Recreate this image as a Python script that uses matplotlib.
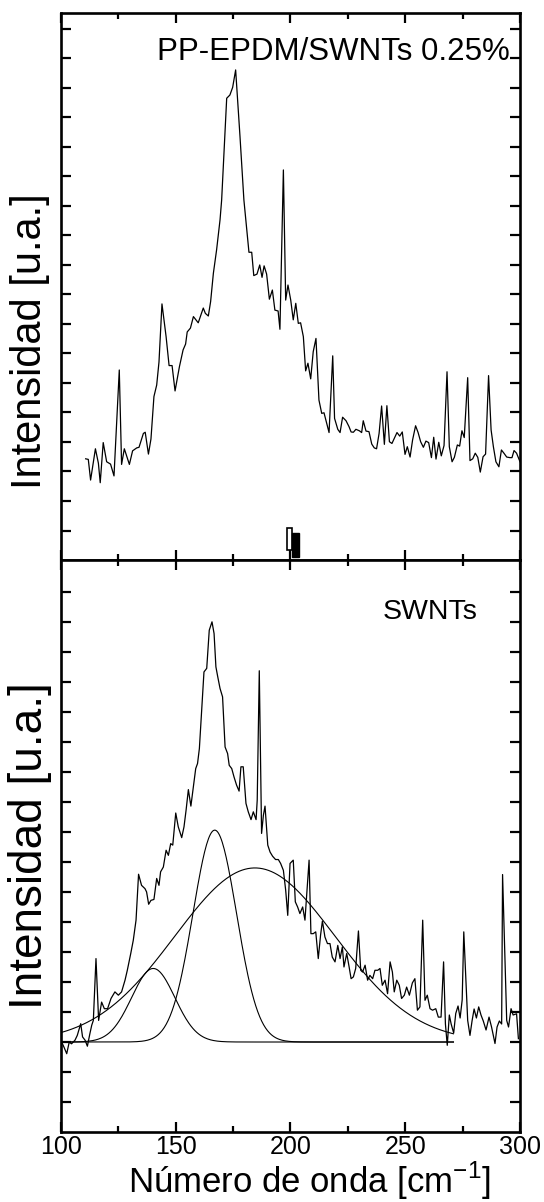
import matplotlib
matplotlib.use("Agg")
import matplotlib.pyplot as plt
from matplotlib.patches import Rectangle
import numpy as np

plt.rcParams['font.family'] = ['Liberation Sans', 'DejaVu Sans']
plt.rcParams['mathtext.fontset'] = 'custom'
plt.rcParams['mathtext.rm'] = 'Liberation Sans'

# PP-EPDM/SWNTs 0.25% spectrum
top_x = [110.75, 111.9, 112.9, 115.0, 116.3, 117.1, 118.4, 119.9, 121.6, 123.1,
         125.4, 126.4, 127.6, 129.8, 131.2, 133.0, 134.0, 135.9, 136.7, 138.1,
         139.2, 140.5, 141.7, 142.7, 144.0, 145.8, 147.1, 148.4, 149.7, 151.6,
         153.2, 154.3, 155.0, 156.4, 157.7, 159.8, 162.0, 162.9, 164.2, 165.2,
         166.4, 167.8, 169.3, 170.0, 172.2, 173.6, 174.8, 176.1, 178.0, 179.7,
         181.9, 183.1, 184.0, 185.4, 186.6, 187.6, 188.5, 189.6, 190.8, 192.1,
         193.2, 194.6, 195.4, 196.9, 197.9, 198.9, 200.1, 201.2, 202.3, 203.4,
         204.4, 205.6, 206.6, 207.6, 208.8, 209.9, 211.1, 212.4, 213.6, 214.6,
         215.8, 216.8, 218.4, 219.2, 220.6, 221.6, 222.7, 224.2, 225.5, 226.4,
         227.4, 228.5, 230.0, 231.0, 231.7, 232.9, 234.2, 235.4, 236.5, 237.5,
         238.6, 239.7, 240.9, 242.0, 243.1, 244.2, 245.2, 246.4, 247.6, 248.7,
         249.9, 250.9, 252.1, 253.2, 254.5, 255.6, 256.7, 257.9, 259.0, 260.2,
         261.4, 262.4, 263.4, 264.6, 265.7, 266.9, 268.2, 269.2, 270.4, 271.4,
         272.7, 273.7, 274.7, 275.7, 277.2, 278.2, 279.4, 280.5, 281.6, 282.7,
         283.9, 285.0, 286.3, 287.4, 288.4, 289.5, 290.8, 291.9, 293.0, 294.2,
         295.6, 296.5, 297.4, 298.5, 300.0]
top_y = [3.43, 3.41, 2.71, 3.77, 3.28, 2.62, 3.98, 3.33, 3.25, 2.85,
         6.44, 3.24, 3.77, 3.24, 3.70, 3.80, 3.82, 4.29, 4.33, 3.59,
         4.10, 5.54, 5.93, 6.71, 8.68, 7.57, 6.59, 6.59, 5.73, 6.55,
         7.12, 7.32, 7.73, 7.86, 8.25, 8.04, 8.54, 8.36, 8.27, 8.76,
         9.72, 10.51, 11.53, 12.20, 15.65, 15.76, 16.02, 16.61, 14.35, 12.20,
         10.43, 10.43, 9.64, 9.69, 10.00, 9.58, 9.97, 9.69, 8.84, 9.15,
         8.47, 8.44, 7.82, 13.22, 8.81, 9.32, 8.81, 8.14, 8.70, 8.02,
         8.04, 7.57, 6.41, 6.67, 6.14, 7.06, 7.51, 5.42, 4.97, 4.99,
         4.63, 4.32, 6.92, 4.80, 4.43, 4.32, 4.84, 4.72, 4.52, 4.34,
         4.33, 4.43, 4.38, 4.32, 4.72, 4.37, 4.35, 3.93, 3.80, 3.77,
         4.29, 5.22, 3.92, 5.23, 4.01, 3.95, 4.12, 4.32, 4.20, 4.34,
         3.58, 3.84, 3.49, 4.07, 4.55, 4.32, 4.01, 3.82, 4.03, 3.98,
         3.47, 4.16, 3.42, 3.99, 3.53, 3.88, 6.38, 3.84, 3.33, 3.48,
         3.90, 3.86, 4.38, 4.15, 6.18, 3.37, 3.43, 3.62, 3.48, 2.98,
         3.50, 3.59, 6.25, 4.41, 3.84, 3.33, 3.16, 3.73, 3.62, 3.49,
         3.47, 3.47, 3.71, 3.62, 3.33]

# SWNTs spectrum
bot_x = [100.3, 101.3, 102.5, 103.6, 104.6, 106.1, 107.1, 108.6, 109.4, 110.5,
         111.5, 112.6, 113.4, 114.1, 115.25, 116.4, 117.7, 118.9, 120.3, 121.8,
         123.5, 125.0, 126.4, 127.9, 128.9, 130.4, 131.5, 132.7, 133.8, 135.1,
         136.6, 137.3, 138.2, 139.2, 140.5, 141.7, 142.7, 143.4, 144.6, 145.8,
         146.8, 147.8, 148.7, 150.0, 151.1, 152.6, 153.6, 154.5, 155.5, 156.6,
         157.7, 158.7, 159.5, 160.3, 161.3, 162.3, 163.5, 164.6, 165.8, 166.7,
         167.5, 168.3, 169.3, 170.4, 171.5, 172.6, 173.3, 174.4, 175.4, 176.5,
         177.6, 178.4, 179.4, 180.6, 181.6, 182.8, 183.8, 185.0, 185.5, 186.4,
         187.4, 188.2, 188.9, 190.1, 191.1, 192.2, 193.5, 194.7, 195.7, 196.9,
         197.9, 198.8, 199.8, 201.2, 202.1, 203.1, 204.1, 205.3, 206.3, 207.0,
         208.1, 208.9, 209.9, 211.0, 212.1, 213.1, 213.9, 215.0, 216.1, 217.2,
         218.2, 219.4, 220.6, 221.6, 222.6, 223.3, 224.5, 225.5, 226.4, 227.4,
         228.4, 229.6, 230.6, 231.4, 232.5, 233.6, 234.6, 235.8, 236.8, 238.0,
         239.0, 240.0, 241.2, 242.3, 243.4, 244.4, 245.2, 246.3, 247.4, 248.4,
         249.6, 250.6, 251.8, 253.1, 254.2, 255.3, 256.4, 257.6, 258.6, 259.6,
         260.8, 261.9, 263.3, 264.4, 265.6, 266.7, 267.5, 268.3, 269.2, 270.0,
         271.1, 272.0, 273.0, 273.9, 274.8, 275.5, 277.2, 278.2, 279.1, 280.0,
         281.0, 282.0, 283.0, 284.0, 285.2, 286.5, 287.6, 289.1, 290.0, 291.0,
         292.0, 292.4, 294.2, 295.0, 296.1, 297.0, 298.5, 299.3]
bot_y = [3.00, 2.83, 2.61, 3.00, 2.94, 3.06, 3.22, 3.61, 3.17, 3.06,
         2.86, 3.28, 3.56, 3.72, 5.78, 3.72, 4.33, 4.11, 4.11, 4.45,
         4.67, 4.56, 4.67, 5.06, 5.39, 5.95, 6.39, 7.06, 8.59, 8.22,
         8.11, 8.00, 7.59, 7.72, 7.75, 8.45, 8.22, 8.67, 8.83, 9.39,
         9.22, 9.61, 9.56, 10.63, 10.17, 9.81, 10.17, 10.72, 11.41, 10.86,
         11.50, 12.11, 12.28, 12.78, 14.06, 15.33, 15.45, 16.72, 17.00, 16.61,
         15.50, 15.17, 14.78, 14.50, 12.83, 12.61, 12.22, 12.11, 11.83, 11.56,
         11.36, 12.17, 12.17, 10.95, 10.67, 10.41, 10.67, 10.41, 11.06, 15.37,
         9.95, 10.56, 10.86, 9.56, 9.33, 9.19, 9.08, 9.08, 8.95, 8.72,
         8.06, 7.22, 8.95, 9.06, 7.67, 7.50, 7.28, 7.50, 7.06, 7.83,
         9.06, 6.61, 6.61, 6.67, 5.78, 6.56, 7.03, 6.50, 6.28, 6.28,
         5.83, 5.67, 6.22, 5.78, 6.17, 5.50, 5.95, 5.52, 5.11, 5.17,
         5.45, 6.70, 5.39, 5.33, 5.56, 5.06, 5.22, 5.11, 5.39, 5.39,
         5.45, 4.89, 5.06, 4.61, 5.67, 5.33, 4.67, 5.06, 4.89, 4.45,
         4.56, 4.83, 4.56, 4.97, 5.11, 4.06, 4.17, 7.06, 4.39, 4.56,
         4.11, 4.06, 4.11, 3.83, 3.83, 5.67, 3.60, 2.89, 3.90, 3.60,
         3.30, 3.95, 4.20, 3.80, 4.40, 6.67, 3.72, 3.22, 3.70, 4.10,
         3.80, 4.17, 3.90, 3.70, 3.40, 3.83, 3.50, 2.95, 3.50, 3.70,
         3.60, 8.58, 3.72, 3.50, 4.11, 3.90, 3.94, 3.11]

# fitted components for SWNTs: centre, width (sigma), height above baseline
fit_centers = [140.2, 167.0, 184.5]
fit_sigmas = [9.4, 9.5, 35.0]
fit_heights = [2.45, 7.06, 5.8]
fit_base = 3.0
fit_range = [100, 271]

fig = plt.figure(figsize=(5.44, 12.02), dpi=100)
ax1 = fig.add_axes([0.1121, 0.5341, 0.8438, 0.4551])
ax2 = fig.add_axes([0.1121, 0.0582, 0.8438, 0.4759])

ax1.plot(top_x, top_y, color='black', lw=0.9)
ax2.plot(bot_x, bot_y, color='black', lw=0.9)

xf = np.linspace(fit_range[0], fit_range[1], 400)
for c, s, h in zip(fit_centers, fit_sigmas, fit_heights):
    ax2.plot(xf, fit_base + h * np.exp(-(xf - c) ** 2 / (2 * s ** 2)), color='black', lw=0.8)

# little marker boxes near 200 at the bottom of the upper panel
ax1.add_patch(Rectangle((198.6, 0.34), 2.2, 0.75, fill=False, ec='black', lw=1.2))
ax1.add_patch(Rectangle((200.8, 0.11), 2.9, 0.80, fc='black', ec='black', lw=1.0))

for ax in (ax1, ax2):
    ax.set_xlim(100, 300)
    ax.set_xticks([100, 150, 200, 250, 300])
    ax.set_xticks([125, 175, 225, 275], minor=True)
    ax.set_yticks(np.arange(1, 19))
    ax.tick_params(which='both', direction='in', top=True, right=True, width=1.6)
    ax.tick_params(which='major', length=7.5)
    ax.tick_params(which='minor', length=4.5)
    ax.tick_params(axis='y', labelleft=False)
    for sp in ax.spines.values():
        sp.set_linewidth(1.9)

ax1.set_ylim(0, 18.54)
ax2.set_ylim(0, 19.06)
ax1.tick_params(axis='x', labelbottom=False)
ax2.tick_params(axis='x', labelsize=18, pad=2)

ax1.text(0.978, 0.914, 'PP-EPDM/SWNTs 0.25%', transform=ax1.transAxes,
         ha='right', va='baseline', fontsize=22.5)
ax2.text(0.908, 0.897, 'SWNTs', transform=ax2.transAxes,
         ha='right', va='baseline', fontsize=20.5)

ax1.text(-0.068, 0.40, 'Intensidad [u.a.]', transform=ax1.transAxes, rotation=90,
         ha='center', va='center', fontsize=30)
ax2.text(-0.068, 0.50, 'Intensidad [u.a.]', transform=ax2.transAxes, rotation=90,
         ha='center', va='center', fontsize=33)
ax2.text(0.542, -0.106, 'Número de onda [cm$^{\\mathregular{-1}}$]', transform=ax2.transAxes,
         ha='center', va='baseline', fontsize=25)

plt.savefig('out.png', dpi=100)
